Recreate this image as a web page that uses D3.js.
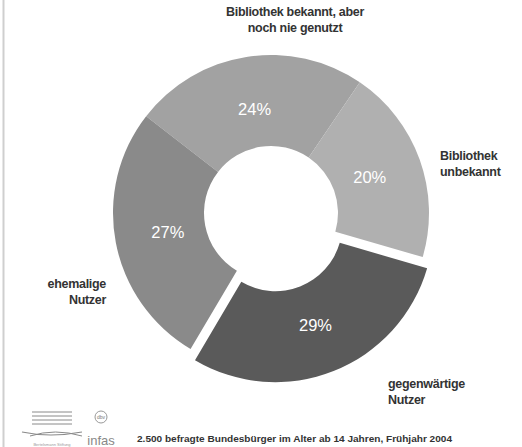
<!DOCTYPE html>
<html><head><meta charset="utf-8">
<script src="https://cdn.jsdelivr.net/npm/d3@7"></script>
<style>body{margin:0;background:#fff}svg{display:block}</style>
</head><body>
<svg id="c" width="522" height="447"></svg>
<script>
const categories = ["Bibliothek bekannt, aber noch nie genutzt", "Bibliothek unbekannt", "gegenwärtige Nutzer", "ehemalige Nutzer"];
const values = [24, 20, 29, 27];
const valueLabels = ["24%", "20%", "29%", "27%"];
const labelLines = [["Bibliothek bekannt, aber", "noch nie genutzt"], ["Bibliothek", "unbekannt"], ["gegenwärtige", "Nutzer"], ["ehemalige", "Nutzer"]];
const colors = ["#a2a2a2", "#b0b0b0", "#5a5a5a", "#8a8a8a"];
const exploded = [false, false, true, false];
const footer = "2.500 befragte Bundesbürger im Alter ab 14 Jahren, Frühjahr 2004";

const svg = d3.select("#c");
svg.append("line").attr("x1",3.5).attr("x2",3.5).attr("y1",0).attr("y2",447).attr("stroke","#cfcfcf").attr("stroke-width",2);

const cx = 271, cy = 213, R = 158, r = 67;
const startA = -52.2 * Math.PI/180;
const pie = d3.pie().sort(null).value(d=>d).startAngle(startA).endAngle(startA + 2*Math.PI);
const arcs = pie(values);
const arc = d3.arc().innerRadius(r).outerRadius(R);
const g = svg.append("g").attr("transform",`translate(${cx},${cy})`);
const off = 12;
g.selectAll("path").data(arcs).join("path")
  .attr("d", arc)
  .attr("fill", (d,i)=>colors[i])
  .attr("transform", (d,i)=>{
    if(!exploded[i]) return null;
    const m = (d.startAngle+d.endAngle)/2;
    return `translate(${off*Math.sin(m)},${-off*Math.cos(m)})`;
  });

const lblR = 105;
g.selectAll("text.pct").data(arcs).join("text").attr("class","pct")
  .attr("x",(d,i)=>{const m=(d.startAngle+d.endAngle)/2; return (lblR+(exploded[i]?off+4:0))*Math.sin(m);})
  .attr("y",(d,i)=>{const m=(d.startAngle+d.endAngle)/2; return -(lblR+(exploded[i]?off+4:0))*Math.cos(m);})
  .attr("dy","0.35em").attr("text-anchor","middle")
  .attr("fill","#fff").attr("font-family","Liberation Sans, Arial, sans-serif").attr("font-size",16.5)
  .text((d,i)=>valueLabels[i]);

const labelPos = [
  {x:295, y:16, anchor:"middle"},
  {x:440, y:160, anchor:"start"},
  {x:388, y:388, anchor:"start"},
  {x:106, y:288, anchor:"end"}
];
labelLines.forEach((lines,i)=>{
  const t = svg.append("text").attr("x",labelPos[i].x).attr("y",labelPos[i].y)
    .attr("text-anchor",labelPos[i].anchor).attr("fill","#333")
    .attr("font-family","Liberation Sans, Arial, sans-serif").attr("font-size",12.5).attr("font-weight","bold")
    .attr("letter-spacing",-0.3);
  lines.forEach((l,j)=>t.append("tspan").attr("x",labelPos[i].x).attr("dy", j?16:0).text(l));
});

svg.append("text").attr("x",137).attr("y",442).attr("fill","#333")
  .attr("font-family","Liberation Sans, Arial, sans-serif").attr("font-size",9.5).attr("font-weight","bold")
  .attr("textLength",315).attr("lengthAdjust","spacingAndGlyphs")
  .text(footer);

// logos (decorative)
const lg = svg.append("g").attr("stroke","#8a8a8a").attr("fill","none");
[412,416,420,424].forEach((y,k)=>lg.append("line").attr("x1",32).attr("x2",72).attr("y1",y).attr("y2",y).attr("stroke-width",1));
lg.append("path").attr("d","M22,432 Q50,438 82,432").attr("stroke-width",1.2);
lg.append("path").attr("d","M30,436 Q55,428 82,436").attr("stroke-width",1);
svg.append("text").attr("x",52).attr("y",446).attr("text-anchor","middle").attr("font-size",4).attr("fill","#999").attr("font-family","Liberation Sans, sans-serif").text("Bertelsmann Stiftung");
svg.append("circle").attr("cx",101).attr("cy",417).attr("r",6).attr("fill","none").attr("stroke","#999");
svg.append("text").attr("x",101).attr("y",419).attr("text-anchor","middle").attr("font-size",5).attr("fill","#777").attr("font-family","Liberation Sans, sans-serif").text("dbv");
svg.append("text").attr("x",101).attr("y",445).attr("text-anchor","middle").attr("font-size",13).attr("fill","#888").attr("font-family","Liberation Sans Narrow, Liberation Sans, sans-serif").text("infas");
</script>
</body></html>
